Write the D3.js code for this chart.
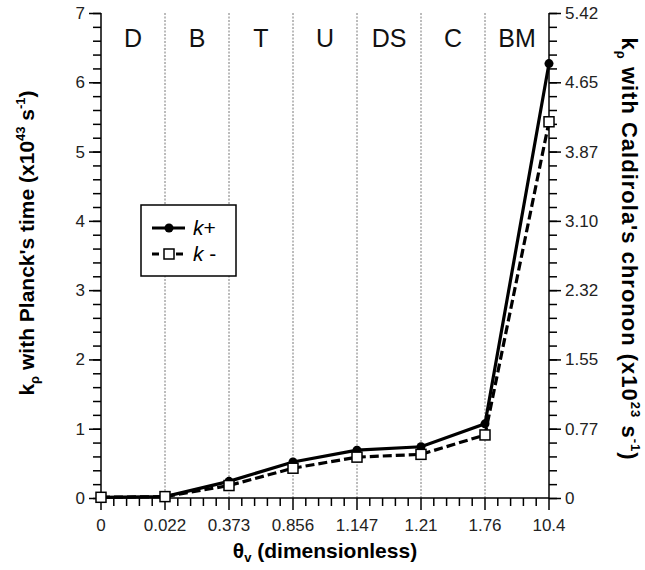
<!DOCTYPE html>
<html>
<head>
<meta charset="utf-8">
<script src="https://cdn.jsdelivr.net/npm/d3@7"></script>
<style>
  body { margin: 0; background: #fff; }
  text { font-family: "Liberation Sans", Arial, sans-serif; }
</style>
</head>
<body>
<svg width="645" height="570"></svg>
<script>
  var thetaLabels = ["0", "0.022", "0.373", "0.856", "1.147", "1.21", "1.76", "10.4"];
  var regions = ["D", "B", "T", "U", "DS", "C", "BM"];
  var kPlus = [0.01, 0.02, 0.24, 0.52, 0.69, 0.74, 1.07, 6.27];
  var kMinus = [0.01, 0.02, 0.18, 0.43, 0.59, 0.63, 0.91, 5.43];
  var leftTicks = [0, 1, 2, 3, 4, 5, 6, 7];
  var rightTickLabels = ["0", "0.77", "1.55", "2.32", "3.10", "3.87", "4.65", "5.42"];

  (function () {
  var svg = d3.select("svg");
  var left = 101, right = 549, plotTop = 13, bottom = 498;

  var x = d3.scalePoint().domain(d3.range(thetaLabels.length)).range([left, right]);
  var y = d3.scaleLinear().domain([0, 7]).range([bottom, plotTop]);
  var yRight = d3.scaleLinear().domain([0, 5.42]).range([bottom, plotTop]);

  var step = x.step();

  // dotted region separators
  svg.append("g").selectAll("line")
    .data(d3.range(1, thetaLabels.length - 1))
    .enter().append("line")
    .attr("x1", function (d) { return x(d); })
    .attr("x2", function (d) { return x(d); })
    .attr("y1", plotTop)
    .attr("y2", bottom)
    .attr("stroke", "#555")
    .attr("stroke-width", 0.8)
    .attr("stroke-dasharray", "2,1.5");

  // region labels
  svg.append("g").selectAll("text")
    .data(regions)
    .enter().append("text")
    .attr("x", function (d, i) { return x(i) + step / 2; })
    .attr("y", 47)
    .attr("text-anchor", "middle")
    .attr("font-size", 25)
    .attr("fill", "#111")
    .text(function (d) { return d; });

  // x axis with minor ticks
  var xMinor = [];
  d3.range(thetaLabels.length - 1).forEach(function (i) {
    for (var j = 1; j < 5; j++) xMinor.push(x(i) + step * j / 5);
  });
  var xg = svg.append("g");
  xg.append("line").attr("x1", left).attr("x2", right)
    .attr("y1", bottom).attr("y2", bottom)
    .attr("stroke", "#000").attr("stroke-width", 1.5);
  xg.selectAll(".maj").data(thetaLabels).enter().append("line")
    .attr("x1", function (d, i) { return x(i); })
    .attr("x2", function (d, i) { return x(i); })
    .attr("y1", bottom).attr("y2", bottom + 12)
    .attr("stroke", "#000").attr("stroke-width", 1.5);
  xg.selectAll(".min").data(xMinor).enter().append("line")
    .attr("x1", function (d) { return d; })
    .attr("x2", function (d) { return d; })
    .attr("y1", bottom).attr("y2", bottom + 8)
    .attr("stroke", "#000").attr("stroke-width", 1.5);
  xg.selectAll("text").data(thetaLabels).enter().append("text")
    .attr("x", function (d, i) { return x(i); })
    .attr("y", 531)
    .attr("text-anchor", "middle")
    .attr("font-size", 17)
    .attr("fill", "#222")
    .text(function (d) { return d; });

  // left axis
  var leftAxis = d3.axisLeft(y).tickValues(leftTicks).tickSize(12).tickPadding(4)
    .tickFormat(d3.format("d"));
  var lg = svg.append("g").attr("transform", "translate(" + left + ",0)").call(leftAxis);
  lg.append("g").call(d3.axisLeft(y).tickValues(d3.range(0, 7.01, 0.2)).tickSize(8).tickFormat(""));

  // right axis
  var rightStep = 5.42 / 7;
  var rightAxis = d3.axisRight(yRight)
    .tickValues(d3.range(8).map(function (i) { return i * rightStep; }))
    .tickSize(12).tickPadding(4)
    .tickFormat(function (d, i) { return rightTickLabels[i]; });
  var rg = svg.append("g").attr("transform", "translate(" + right + ",0)").call(rightAxis);
  rg.append("g").call(d3.axisRight(yRight)
    .tickValues(d3.range(36).map(function (i) { return i * rightStep / 5; }))
    .tickSize(8).tickFormat(""));

  [lg, rg].forEach(function (g) {
    g.selectAll(".domain").remove();
    g.selectAll("line").attr("stroke-width", 1.5);
    g.selectAll("text").attr("font-size", 17).attr("fill", "#222")
      .attr("font-family", "Liberation Sans, Arial, sans-serif");
    g.append("line").attr("y1", plotTop).attr("y2", bottom)
      .attr("stroke", "#000").attr("stroke-width", 1.5);
  });

  // series
  var line = d3.line()
    .x(function (d, i) { return x(i); })
    .y(function (d) { return y(d); });

  svg.append("path").datum(kMinus)
    .attr("d", line).attr("fill", "none")
    .attr("stroke", "#000").attr("stroke-width", 3.2)
    .attr("stroke-dasharray", "9,4");
  svg.append("path").datum(kPlus)
    .attr("d", line).attr("fill", "none")
    .attr("stroke", "#000").attr("stroke-width", 3.2);

  svg.append("g").selectAll("circle").data(kPlus).enter().append("circle")
    .attr("cx", function (d, i) { return x(i); })
    .attr("cy", function (d) { return y(d); })
    .attr("r", 4.5).attr("fill", "#000");
  svg.append("g").selectAll("rect").data(kMinus).enter().append("rect")
    .attr("x", function (d, i) { return x(i) - 5; })
    .attr("y", function (d) { return y(d) - 5; })
    .attr("width", 10).attr("height", 10)
    .attr("fill", "#fff").attr("stroke", "#000").attr("stroke-width", 1.5);

  // legend
  var lgd = svg.append("g").attr("transform", "translate(141,205)");
  lgd.append("rect").attr("width", 95).attr("height", 71)
    .attr("fill", "#fff").attr("stroke", "#000").attr("stroke-width", 1.5);
  lgd.append("line").attr("x1", 11).attr("x2", 44).attr("y1", 23).attr("y2", 23)
    .attr("stroke", "#000").attr("stroke-width", 3.2);
  lgd.append("circle").attr("cx", 28).attr("cy", 23).attr("r", 4.5).attr("fill", "#000");
  lgd.append("line").attr("x1", 11).attr("x2", 44).attr("y1", 49).attr("y2", 49)
    .attr("stroke", "#000").attr("stroke-width", 3.2).attr("stroke-dasharray", "7,5");
  lgd.append("rect").attr("x", 23).attr("y", 44).attr("width", 10).attr("height", 10)
    .attr("fill", "#fff").attr("stroke", "#000").attr("stroke-width", 1.5);
  var t1 = lgd.append("text").attr("x", 52).attr("y", 30).attr("font-size", 21);
  t1.append("tspan").attr("font-style", "italic").text("k");
  t1.append("tspan").text("+");
  var t2 = lgd.append("text").attr("x", 52).attr("y", 56).attr("font-size", 21);
  t2.append("tspan").attr("font-style", "italic").text("k");
  t2.append("tspan").text(" -");

  // axis titles
  var xt = svg.append("text").attr("x", 325).attr("y", 558)
    .attr("text-anchor", "middle").attr("font-size", 21).attr("font-weight", "bold");
  xt.append("tspan").text("θ");
  xt.append("tspan").attr("font-size", 13).attr("dy", 4).text("v");
  xt.append("tspan").attr("dy", -4).text(" (dimensionless)");

  var ylt = svg.append("text")
    .attr("transform", "translate(34,243) rotate(-90)")
    .attr("text-anchor", "middle").attr("font-size", 21).attr("font-weight", "bold");
  ylt.append("tspan").text("k");
  ylt.append("tspan").attr("font-size", 13).attr("dy", 5).text("ρ");
  ylt.append("tspan").attr("dy", -5).text(" with Planck's time (x10");
  ylt.append("tspan").attr("font-size", 13).attr("dy", -9).text("43");
  ylt.append("tspan").attr("dy", 9).text(" s");
  ylt.append("tspan").attr("font-size", 13).attr("dy", -9).text("-1");
  ylt.append("tspan").attr("dy", 9).text(")");

  var yrt = svg.append("text")
    .attr("transform", "translate(622,249) rotate(90)")
    .attr("text-anchor", "middle").attr("font-size", 22).attr("font-weight", "bold")
    .attr("letter-spacing", 1);
  yrt.append("tspan").text("k");
  yrt.append("tspan").attr("font-size", 13).attr("dy", 5).text("ρ");
  yrt.append("tspan").attr("dy", -5).text(" with Caldirola's chronon (x10");
  yrt.append("tspan").attr("font-size", 13).attr("dy", -9).text("23");
  yrt.append("tspan").attr("dy", 9).text(" s");
  yrt.append("tspan").attr("font-size", 13).attr("dy", -9).text("-1");
  yrt.append("tspan").attr("dy", 9).text(")");
  })();
</script>
</body>
</html>
